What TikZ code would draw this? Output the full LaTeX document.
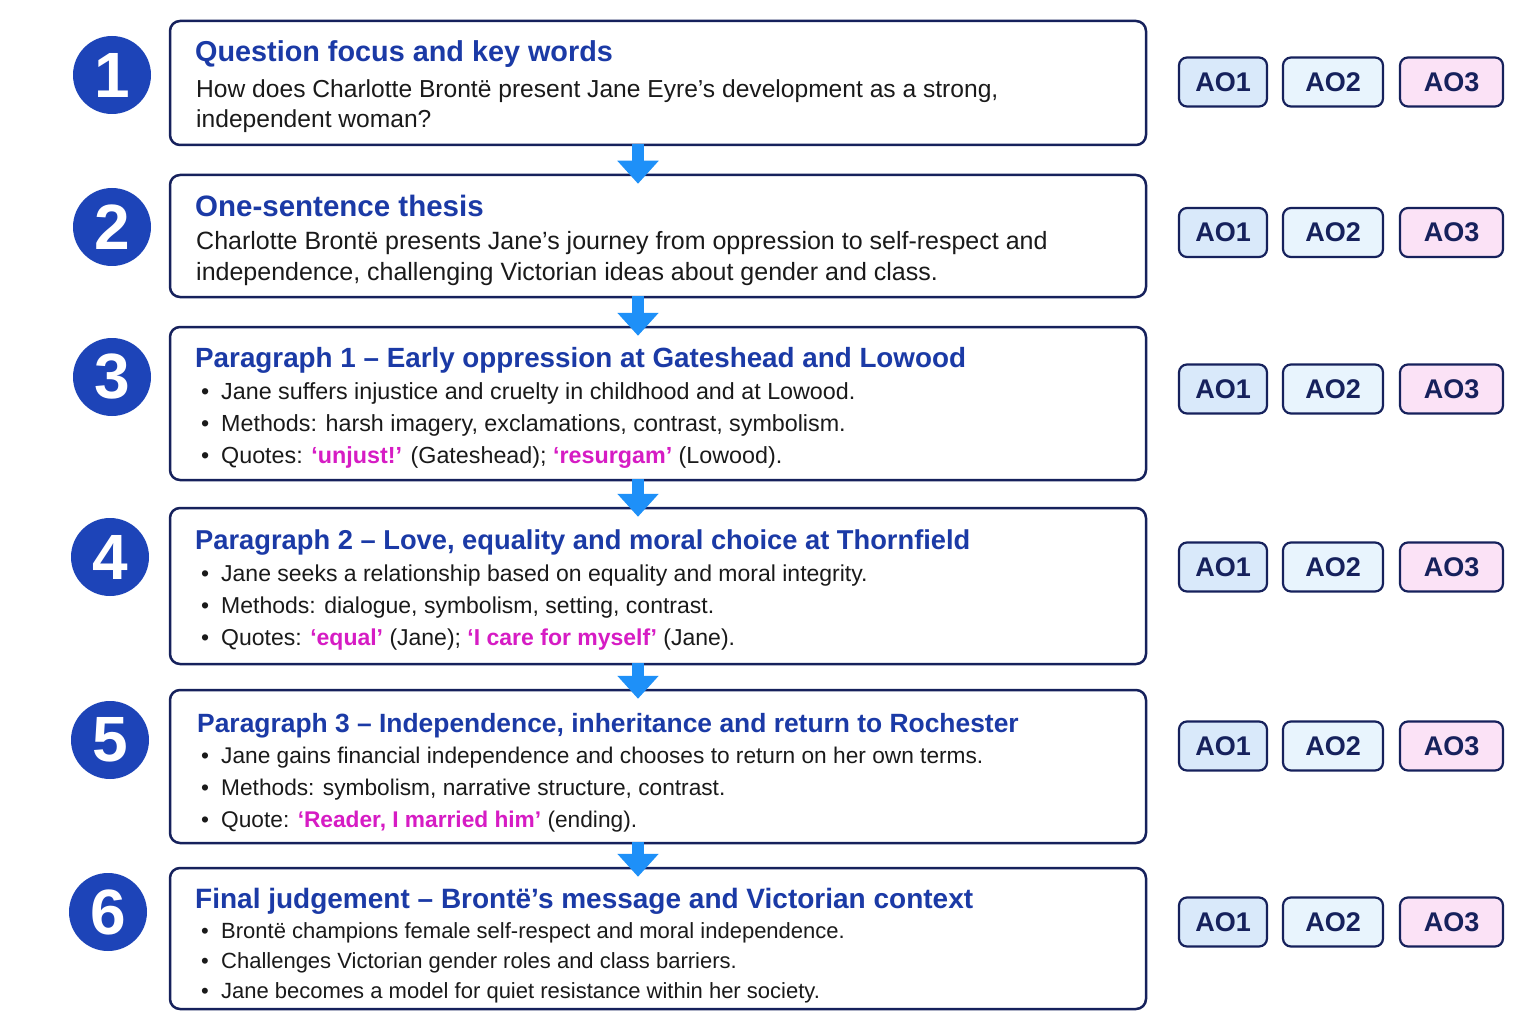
\documentclass[tikz,border=0pt]{standalone}
\usepackage{fontspec}
\setmainfont{Liberation Sans}
\usetikzlibrary{arrows.meta}
\definecolor{navy}{HTML}{16215C}
\definecolor{ttlc}{HTML}{1B3AA6}
\definecolor{circc}{HTML}{1D44B8}
\definecolor{magc}{HTML}{D61CC4}
\definecolor{arrc}{HTML}{1E90F8}
\definecolor{aoa}{HTML}{D9E9FA}
\definecolor{aob}{HTML}{E8F4FD}
\definecolor{aoc}{HTML}{FBE2F6}
\definecolor{txtc}{HTML}{1A1A1A}
\newcommand\bl[1]{\makebox[20pt][l]{\textbullet}#1}
\newcommand\qt[1]{{\color{magc}\bfseries #1}}
\begin{document}
\begin{tikzpicture}[x=1pt,y=-1pt,
  stepbox/.style={draw=navy,line width=2.5pt,rounded corners=10pt,fill=white,minimum width=976pt,inner sep=0pt},
  ttl/.style={anchor=base west,inner sep=0pt,text=ttlc,font=\fontsize{#1}{30}\selectfont\bfseries},
  ttl/.default=27,
  body/.style={anchor=base west,inner sep=0pt,text=txtc,font=\fontsize{#1}{26}\selectfont},
  body/.default=22.5,
  num/.style={circle,fill=circc,minimum size=78pt,inner sep=0pt,text=white,font=\fontsize{64}{64}\selectfont\bfseries},
  ao/.style={draw=navy,line width=2.2pt,rounded corners=8pt,minimum height=49pt,inner sep=0pt,text=navy,font=\fontsize{27}{27}\selectfont\bfseries},
  aoA/.style={ao,fill=aoa,minimum width=88pt},
  aoB/.style={ao,fill=aob,minimum width=100pt},
  aoC/.style={ao,fill=aoc,minimum width=103pt},
  flow/.style={draw=arrc,line width=12pt,-{Triangle[width=40pt,length=23pt]}}
]
\useasboundingbox[fill=white] (0,0) rectangle (1536,1024);

% boxes
\node[stepbox,minimum height=124pt] (b1) at (658,83) {};
\node[stepbox,minimum height=122pt] (b2) at (658,236) {};
\node[stepbox,minimum height=153pt] (b3) at (658,403.5) {};
\node[stepbox,minimum height=156pt] (b4) at (658,586) {};
\node[stepbox,minimum height=153pt] (b5) at (658,766.5) {};
\node[stepbox,minimum height=141pt] (b6) at (658,938.5) {};

% arrows
\draw[flow] ([xshift=-20pt,yshift=2pt]b1.south) -- ([xshift=-20pt,yshift=-10pt]b2.north);
\draw[flow] ([xshift=-20pt,yshift=2pt]b2.south) -- ([xshift=-20pt,yshift=-10pt]b3.north);
\draw[flow] ([xshift=-20pt,yshift=2pt]b3.south) -- ([xshift=-20pt,yshift=-10pt]b4.north);
\draw[flow] ([xshift=-20pt,yshift=2pt]b4.south) -- ([xshift=-20pt,yshift=-10pt]b5.north);
\draw[flow] ([xshift=-20pt,yshift=2pt]b5.south) -- ([xshift=-20pt,yshift=-10pt]b6.north);

% numbers
\node[num] (n1) at (112,75) {1};
\node[num] (n2) at (112,227) {2};
\node[num] (n3) at (112,377) {3};
\node[num] (n4) at (110,557) {4};
\node[num] (n5) at (110,740) {5};
\node[num] (n6) at (108,912) {6};

% box 1
\node[ttl=28.8] (t1) at (195,62) {Question focus and key words};
\node[body=24.6] (t1a) at (196,98) {How does Charlotte Brontë present Jane Eyre’s development as a strong,};
\node[body=24.6] (t1b) at (196,128) {independent woman?};
% box 2
\node[ttl=29.5] (t2) at (195,217) {One-sentence thesis};
\node[body=25] (t2a) at (196,250) {Charlotte Brontë presents Jane’s journey from oppression to self-respect and};
\node[body=25] (t2b) at (196,280) {independence, challenging Victorian ideas about gender and class.};
% box 3
\node[ttl=27.8] (t3) at (195,367) {Paragraph 1 – Early oppression at Gateshead and Lowood};
\node[body=23.3] (t3a) at (201,399) {\bl{Jane suffers injustice and cruelty in childhood and at Lowood.}};
\node[body=23.3] (t3b) at (201,431) {\bl{Methods: harsh imagery, exclamations, contrast, symbolism.}};
\node[body=23.3] (t3c) at (201,463) {\bl{Quotes: \qt{‘unjust!’} (Gateshead); \qt{‘resurgam’} (Lowood).}};
% box 4
\node[ttl=27.3] (t4) at (195,549) {Paragraph 2 – Love, equality and moral choice at Thornfield};
\node[body=23] (t4a) at (201,581) {\bl{Jane seeks a relationship based on equality and moral integrity.}};
\node[body=23] (t4b) at (201,613) {\bl{Methods: dialogue, symbolism, setting, contrast.}};
\node[body=23] (t4c) at (201,645) {\bl{Quotes: \qt{‘equal’} (Jane); \qt{‘I care for myself’} (Jane).}};
% box 5
\node[ttl=26.4] (t5) at (197,732) {Paragraph 3 – Independence, inheritance and return to Rochester};
\node[body=22.7] (t5a) at (201,763) {\bl{Jane gains financial independence and chooses to return on her own terms.}};
\node[body=22.7] (t5b) at (201,795) {\bl{Methods: symbolism, narrative structure, contrast.}};
\node[body=22.7] (t5c) at (201,827) {\bl{Quote: \qt{‘Reader, I married him’} (ending).}};
% box 6
\node[ttl=28] (t6) at (195,908) {Final judgement – Brontë’s message and Victorian context};
\node[body=22] (t6a) at (201,938) {\bl{Brontë champions female self-respect and moral independence.}};
\node[body=22] (t6b) at (201,968) {\bl{Challenges Victorian gender roles and class barriers.}};
\node[body=22] (t6c) at (201,998) {\bl{Jane becomes a model for quiet resistance within her society.}};

% AO badges
\foreach \r/\y in {1/82,2/232.5,3/389,4/567,5/746,6/922}{
  \node[aoA] (a\r) at (1223,\y) {AO1};
  \node[aoB] (b\r) at (1333,\y) {AO2};
  \node[aoC] (c\r) at (1451.5,\y) {AO3};
}
\end{tikzpicture}
\end{document}
